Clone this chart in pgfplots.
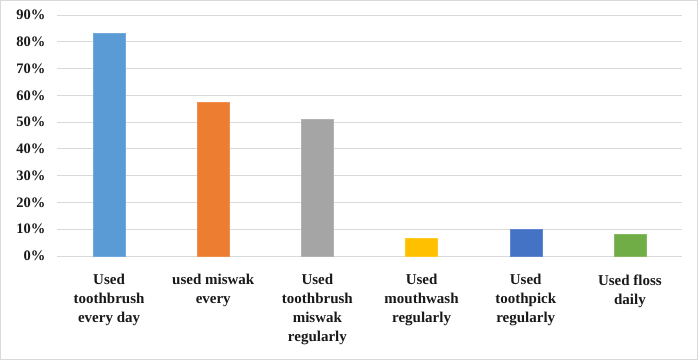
\documentclass[border=0pt]{standalone}
\usepackage{pgfplots}
\pgfplotsset{compat=1.18}
\usepackage{fontspec}
\setmainfont{Liberation Serif}
\definecolor{c1}{HTML}{5B9BD5}
\definecolor{c2}{HTML}{ED7D31}
\definecolor{c3}{HTML}{A5A5A5}
\definecolor{c4}{HTML}{FFC000}
\definecolor{c5}{HTML}{4472C4}
\definecolor{c6}{HTML}{70AD47}
\definecolor{gridc}{HTML}{D9D9D9}
\begin{document}
\begin{tikzpicture}[x=1pt,y=1pt]
\useasboundingbox (0,0) rectangle (698,360);
\draw[gridc, line width=1.2pt] (0.6,0.6) rectangle (697.4,359.4);
\begin{axis}[
  at={(57pt,104pt)}, anchor=south west,
  scale only axis, width=625pt, height=241pt,
  ymin=0, ymax=90, xmin=-0.5, xmax=5.5,
  ytick={0,10,...,90},
  yticklabel={\pgfmathprintnumber{\tick}\%},
  /pgf/number format/assume math mode=true,
  xtick={0,1,2,3,4,5},
  xticklabels={{Used\\toothbrush\\every day},{used miswak\\every},{Used\\toothbrush\\miswak\\regularly},{Used\\mouthwash\\regularly},{Used\\toothpick\\regularly},{Used floss\\daily}},
  xticklabel style={align=center, anchor=north, yshift=-15pt, font=\fontsize{15}{19}\selectfont\bfseries, text=black!90},
  yticklabel style={anchor=east, xshift=-8pt, font=\fontsize{14.5}{17}\selectfont\bfseries, text=black!90},
  major tick length=0pt,
  axis line style={draw=none},
  ymajorgrids, grid style={gridc, line width=1pt},
  ybar, bar width=32pt, bar shift=0pt,
]
\addplot[fill=c1, draw=c1!85!white] coordinates {(0,83.1)};
\addplot[fill=c2, draw=c2!85!white] coordinates {(1,57.6)};
\addplot[fill=c3, draw=c3!85!white] coordinates {(2,51.1)};
\addplot[fill=c4, draw=c4!85!white] coordinates {(3,6.6)};
\addplot[fill=c5, draw=c5!85!white] coordinates {(4,10.1)};
\addplot[fill=c6, draw=c6!85!white] coordinates {(5,8.2)};
\end{axis}
\end{tikzpicture}
\end{document}
